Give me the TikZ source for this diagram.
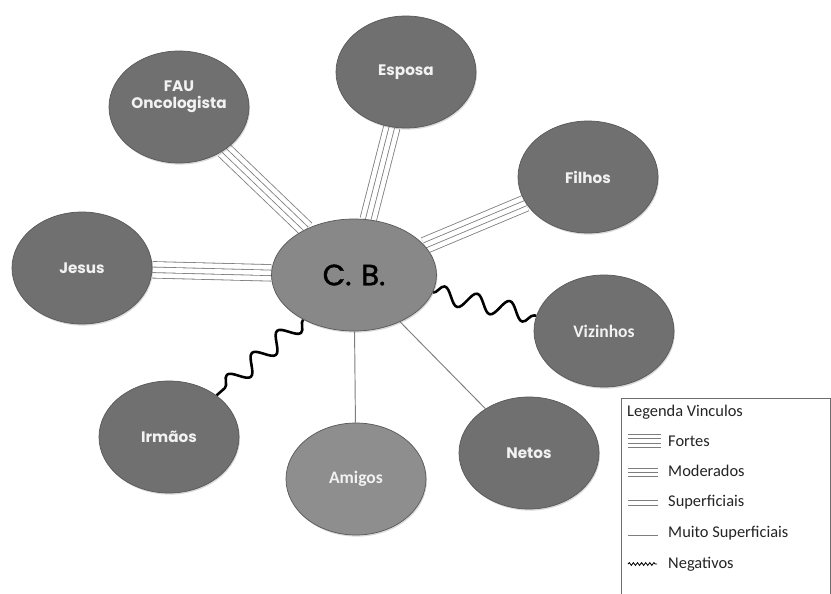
\documentclass[tikz,border=0pt]{standalone}
\usepackage{fontspec}
\setmainfont{Carlito}
\newfontfamily\comicfont{Poppins}
\newfontfamily\cbfont{Poppins}[FakeBold=1.3]
\usetikzlibrary{shapes.geometric,shadows,backgrounds,decorations.pathmorphing}

\begin{document}
\begin{tikzpicture}[x=0.03cm, y=-0.03cm,
		pessoa/.style={ellipse, draw=NODE_EDGE, line width=0.6pt, fill=NODE_GRAY, text=NODE_TEXT,
			inner sep=0pt, minimum width=4.2cm, minimum height=3.36cm, align=center,
			font=\comicfont\bfseries\fontsize{13}{15}\selectfont,
			drop shadow={shadow xshift=0.8pt, shadow yshift=-1.4pt, opacity=0.3}},
		forte/.style={draw=LINK_GRAY, line width=0.7pt, double=white, double distance=4pt,
			preaction={draw=LINK_GRAY, line width=0.7pt, double=white, double distance=13.4pt}},
		fraco/.style={draw=LINK_GRAY, line width=0.8pt},
		negativo/.style={draw=black, line width=2.2pt, line join=round, decorate,
			decoration={snake, segment length=1cm, amplitude=0.26cm}},
		legenda/.style={anchor=west, inner sep=0pt, text=LEGEND_TEXT, font=\fontsize{14}{16}\selectfont},
	]
	\definecolor{NODE_GRAY}{RGB}{112, 112, 112}
	\definecolor{NODE_EDGE}{RGB}{88, 88, 88}
	\definecolor{NODE_TEXT}{RGB}{242, 242, 242}
	\definecolor{CB_GRAY}{RGB}{136, 136, 136}
	\definecolor{LIGHT_NODE}{RGB}{142, 142, 142}
	\definecolor{LINK_GRAY}{RGB}{125, 125, 125}
	\definecolor{LEGEND_EDGE}{RGB}{110, 110, 110}
	\definecolor{LEGEND_TEXT}{RGB}{35, 35, 35}

	\useasboundingbox (0,0) rectangle (831,594);

	% pessoas
	\node[pessoa, fill=CB_GRAY, text=black, minimum width=4.95cm,
		font=\cbfont\fontsize{25}{27}\selectfont] (cb) at (354,275) {C.\,\,B.};
	\node[pessoa] (fau) at (179,107) {FAU\\Oncologista\\[6pt]};
	\node[pessoa] (esposa) at (406,72) {Esposa};
	\node[pessoa] (filhos) at (588,177) {Filhos};
	\node[pessoa] (jesus) at (82,268) {Jesus};
	\node[pessoa, font=\bfseries\fontsize{15}{17}\selectfont] (vizinhos) at (604,331) {Vizinhos};
	\node[pessoa] (irmaos) at (169,437) {Irmãos};
	\node[pessoa, fill=LIGHT_NODE, font=\bfseries\fontsize{15}{17}\selectfont] (amigos) at (356,479) {Amigos};
	\node[pessoa] (netos) at (529,453) {Netos};

	% vinculos
	\begin{scope}[on background layer]
		\draw[forte] (cb) -- (jesus);
		\draw[forte] (cb) -- (fau);
		\draw[forte] (cb) -- (esposa);
		\draw[forte] (cb) -- (filhos);
		\draw[fraco] (cb) -- (amigos);
		\draw[fraco] (cb) -- (netos);
		\draw[negativo] (cb) -- (vizinhos);
		\draw[negativo] (cb) -- (irmaos);
	\end{scope}

	% legenda
	\begin{scope}
		\clip (600,390) rectangle (831,594);
		\draw[LEGEND_EDGE, line width=0.8pt] (621,398) rectangle (830,620);
	\end{scope}
	\node[legenda] (titulo) at (627,412) {Legenda Vinculos};
	\foreach \yy in {434,438.5,443,447.5}
		\draw[LINK_GRAY, line width=0.7pt] (628,\yy) -- (661,\yy);
	\node[legenda] (lforte) at (668,441) {Fortes};
	\foreach \yy in {468,472,476}
		\draw[LINK_GRAY, line width=0.7pt] (628,\yy) -- (658,\yy);
	\node[legenda] (lmoderado) at (668,471) {Moderados};
	\foreach \yy in {500,505}
		\draw[LINK_GRAY, line width=0.7pt] (628,\yy) -- (658,\yy);
	\node[legenda] (lsuperficial) at (668,502) {Superficiais};
	\draw[LINK_GRAY, line width=0.8pt] (628,535) -- (658,535);
	\node[legenda] (lmuito) at (668,533) {Muito Superficiais};
	\draw[black, line width=0.7pt, decorate, decoration={snake, segment length=3.5pt, amplitude=1.2pt}]
		(628,564) -- (657,564);
	\node[legenda] (lnegativo) at (668,564) {Negativos};

\end{tikzpicture}
\end{document}
